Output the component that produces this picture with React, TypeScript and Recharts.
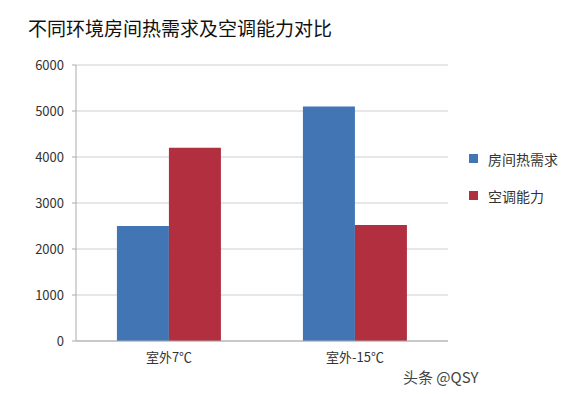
import { BarChart, Bar, XAxis, YAxis, CartesianGrid } from 'recharts';

const categories = ['室外7℃', '室外-15℃'];
const heatDemand = [2500, 5100];
const acCapacity = [4200, 2520];
const yTicks = [0, 1000, 2000, 3000, 4000, 5000, 6000];

const BLUE = '#4175b3';
const RED = '#b12f3e';
const FONT = '"Noto Sans CJK SC", "Noto Sans", sans-serif';

const data = categories.map((name, i) => ({
  name,
  heat: heatDemand[i],
  ac: acCapacity[i],
}));

const legendItems = [
  { label: '房间热需求', color: BLUE },
  { label: '空调能力', color: RED },
];

export default function App() {
  return (
    <div style={{ position: 'absolute', left: 0, top: 0, width: 587, height: 394, background: '#fff', fontFamily: FONT }}>
      <div style={{ position: 'absolute', left: 28, top: 14, fontSize: 19, color: '#111', whiteSpace: 'nowrap' }}>
        不同环境房间热需求及空调能力对比
      </div>
      <BarChart
        width={587}
        height={394}
        data={data}
        margin={{ top: 65, right: 139, bottom: 23, left: 0 }}
        barCategoryGap="22%"
        barGap={0}
      >
        <CartesianGrid vertical={false} stroke="#cfcfcf" />
        <XAxis
          dataKey="name"
          height={30}
          stroke="#aaa"
          tickLine={false}
          tickSize={0}
          tickMargin={12}
          tick={{ fontSize: 13, fill: '#333', fontFamily: FONT }}
        />
        <YAxis
          width={76}
          domain={[0, 6000]}
          ticks={yTicks}
          stroke="#aaa"
          tickSize={4}
          tickMargin={8}
          tick={{ fontSize: 13, fill: '#333', fontFamily: FONT }}
        />
        <Bar dataKey="heat" name="房间热需求" fill={BLUE} isAnimationActive={false} />
        <Bar dataKey="ac" name="空调能力" fill={RED} isAnimationActive={false} />
      </BarChart>
      <div style={{ position: 'absolute', left: 469, top: 140, fontSize: 14, color: '#333' }}>
        {legendItems.map((it) => (
          <div key={it.label} style={{ display: 'flex', alignItems: 'center', height: 37 }}>
            <span style={{ width: 9, height: 9, background: it.color, marginRight: 10 }} />
            <span>{it.label}</span>
          </div>
        ))}
      </div>
      <div style={{ position: 'absolute', left: 403, top: 366, fontSize: 15, color: '#444', whiteSpace: 'nowrap' }}>
        头条 @QSY
      </div>
    </div>
  );
}
